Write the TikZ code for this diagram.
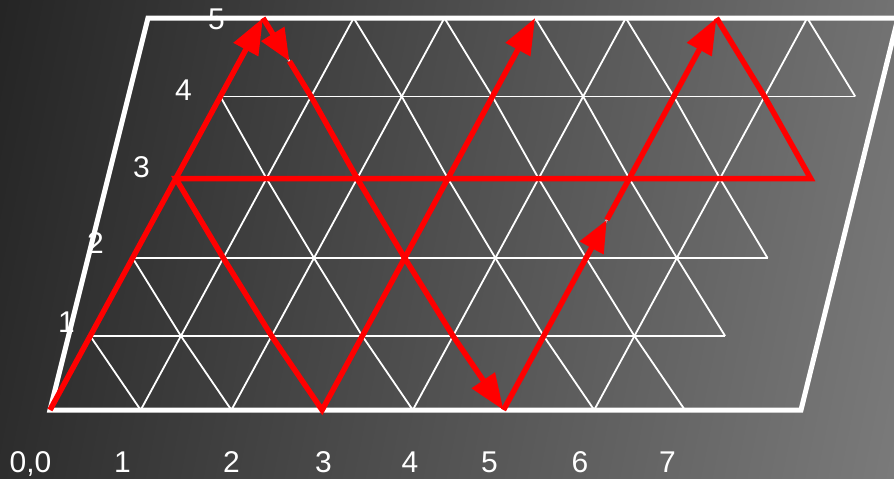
\documentclass[tikz,border=0pt]{standalone}
\usepackage{fontspec}
\setmainfont{Liberation Sans}
\usetikzlibrary{arrows.meta,calc}
\definecolor{bgL}{HTML}{242424}
\definecolor{bgR}{HTML}{7B7B7B}
\definecolor{redpen}{HTML}{FF0000}
\tikzset{
  gridline/.style={draw=white, line width=1.8pt},
  frameline/.style={draw=white, line width=5pt, line join=miter},
  redpath/.style={draw=redpen, line width=5.5pt, line join=miter},
  redtip/.style={-{Triangle[length=36pt,width=27pt]}},
  midtip/.style={-{Triangle[length=32pt,width=26pt]}},
  lbl/.style={text=white, font=\fontsize{30}{36}\selectfont, inner sep=0pt, anchor=base},
}
\begin{document}
\begin{tikzpicture}[x=1pt,y=-1pt]
  \useasboundingbox (0,0) rectangle (894,479);
  \clip (0,0) rectangle (894,479);
  \shade[left color=bgL, right color=bgR, shading angle=78.85] (-89.4,-47.9) rectangle (983.4,526.9);

  % lattice points
  \foreach \j/\yy in {0/410,1/336,2/258,3/178.5,4/96.5,5/18}{
    \foreach \i in {0,...,7}{
      \pgfmathsetmacro\xx{50+0.54337*(410-\yy)+90.7*\i}
      \coordinate (p\i-\j) at (\xx,\yy);
    }
  }
  % frame corners
  \coordinate (c1) at (50,410);
  \coordinate (c2) at (801,410);
  \coordinate (c3) at (898,18);
  \coordinate (c4) at (148,18);

  % thin grid
  \foreach \j in {1,...,4}{
    \draw[gridline] (p0-\j) -- (p7-\j);
  }
  \foreach \i in {0,...,6}{
    \draw[gridline] (p\i-0) -- (p\i-5);
  }
  \foreach \j in {0,...,4}{
    \foreach \i in {0,...,6}{
      \pgfmathtruncatemacro\ii{\i+1}
      \pgfmathtruncatemacro\jj{\j+1}
      \draw[gridline] (p\i-\jj) -- (p\ii-\j);
    }
  }

  % frame
  \draw[frameline] (c1) -- (c2) -- (c3) -- (c4) -- cycle;

  % red path
  \coordinate (m1) at ($(p0-5)!0.55!(p1-4)$);
  \coordinate (m2) at ($(p5-2)!0.48!(p5-3)$);
  \draw[redpath, redtip] (p0-0) -- (p0-5);
  \draw[redpath, midtip] (p0-5) -- (m1);
  \draw[redpath, redtip] (m1) -- (p1-4) -- (p2-3) -- (p3-2) -- (p4-1) -- (p5-0);
  \draw[redpath, midtip] (p5-0) -- (m2);
  \draw[redpath, redtip] (m2) -- (p5-5);
  \draw[redpath, redtip] (p5-5) -- (p6-4) -- (p7-3) -- (p0-3) -- (p1-2) -- (p2-1) -- (p3-0) -- (p3-5);

  % labels
  \node[lbl] (b0) at (30.5,472) {0,0};
  \node[lbl] (b1) at (122.5,472) {1};
  \node[lbl] (b2) at (231.5,472) {2};
  \node[lbl] (b3) at (323.5,472) {3};
  \node[lbl] (b4) at (410,472) {4};
  \node[lbl] (b5) at (489.5,472) {5};
  \node[lbl] (b6) at (580,472) {6};
  \node[lbl] (b7) at (667.5,472) {7};
  \node[lbl] (r1) at (66.5,332) {1};
  \node[lbl] (r2) at (95.5,253) {2};
  \node[lbl] (r3) at (141.5,177) {3};
  \node[lbl] (r4) at (183.5,100) {4};
  \node[lbl] (r5) at (216.5,29) {5};
\end{tikzpicture}
\end{document}
